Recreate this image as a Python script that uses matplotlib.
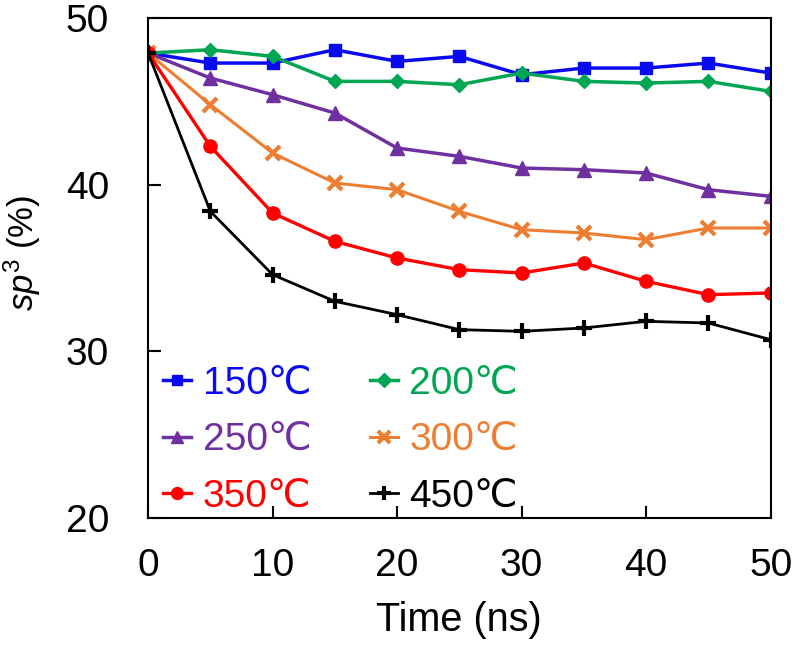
import matplotlib
matplotlib.use("Agg")
import matplotlib.pyplot as plt

plt.rcParams['font.family'] = ['Liberation Sans', 'DejaVu Sans']
plt.rcParams['mathtext.fontset'] = 'custom'
plt.rcParams['mathtext.rm'] = 'Liberation Sans'
plt.rcParams['mathtext.it'] = 'Liberation Sans:italic'

# time axis (ns)
time_ns = [0, 5, 10, 15, 20, 25, 30, 35, 40, 45, 50]

# sp3 fraction (%) per annealing temperature
sp3_150 = [47.9, 47.3, 47.3, 48.1, 47.4, 47.7, 46.6, 47.0, 47.0, 47.3, 46.7]
sp3_200 = [47.9, 48.1, 47.7, 46.2, 46.2, 46.0, 46.7, 46.2, 46.1, 46.2, 45.6]
sp3_250 = [47.9, 46.4, 45.4, 44.3, 42.2, 41.7, 41.0, 40.9, 40.7, 39.7, 39.3]
sp3_300 = [47.9, 44.8, 41.9, 40.1, 39.7, 38.4, 37.3, 37.1, 36.7, 37.4, 37.4]
sp3_350 = [47.9, 42.3, 38.3, 36.6, 35.6, 34.9, 34.7, 35.3, 34.2, 33.4, 33.5]
sp3_450 = [47.9, 38.4, 34.6, 33.0, 32.2, 31.3, 31.2, 31.4, 31.8, 31.7, 30.7]

labels = ['150℃', '200℃', '250℃', '300℃', '350℃', '450℃']
series = [sp3_150, sp3_200, sp3_250, sp3_300, sp3_350, sp3_450]
colors = ['#0A0AF0', '#00A651', '#7030A0', '#ED7D31', '#FF0000', '#000000']
markers = ['s', 'D', '^', 'x', 'o', '+']
msizes = [8, 7.5, 9.5, 10, 9.5, 11]
lwidths = [2.5, 2.5, 2.5, 2.2, 2.4, 2.0]

fig = plt.figure(figsize=(7.92, 6.45), dpi=100)
ax = fig.add_axes([0.187, 0.197, 0.786, 0.775])

for y, lab, c, m, ms, lw in zip(series, labels, colors, markers, msizes, lwidths):
    ax.plot(time_ns, y, color=c, marker=m, markersize=ms, lw=lw,
            markeredgewidth=3 if m in ('x', '+') else 1, label=lab)

ax.set_xlim(0, 50)
ax.set_ylim(20, 50)
ax.set_xticks([0, 10, 20, 30, 40, 50])
ax.set_yticks([20, 30, 40, 50])
ax.tick_params(direction='in', length=9, width=1.5, labelsize=28)
ax.tick_params(axis='x', pad=22)
ax.tick_params(axis='y', pad=28)
for s in ax.spines.values():
    s.set_linewidth(1.5)

ax.set_xlabel('Time (ns)', fontsize=28.5, labelpad=12)
ax.set_ylabel(r'$\mathit{sp}^3$ (%)', fontsize=25)
ax.yaxis.set_label_coords(-0.169, 0.53)

# legend order: rows 150/200, 250/300, 350/450
h, l = ax.get_legend_handles_labels()
order = [0, 2, 4, 1, 3, 5]
leg = ax.legend([h[i] for i in order], [l[i] for i in order], ncol=2,
                loc='lower left', bbox_to_anchor=(0.024, 0.007), frameon=False,
                fontsize=28, handlelength=0.72, handletextpad=0.3,
                columnspacing=1.5, labelspacing=0.52, borderaxespad=0,
                borderpad=0, markerscale=0.9, labelcolor='linecolor')

fig.savefig('out.png', dpi=100)
